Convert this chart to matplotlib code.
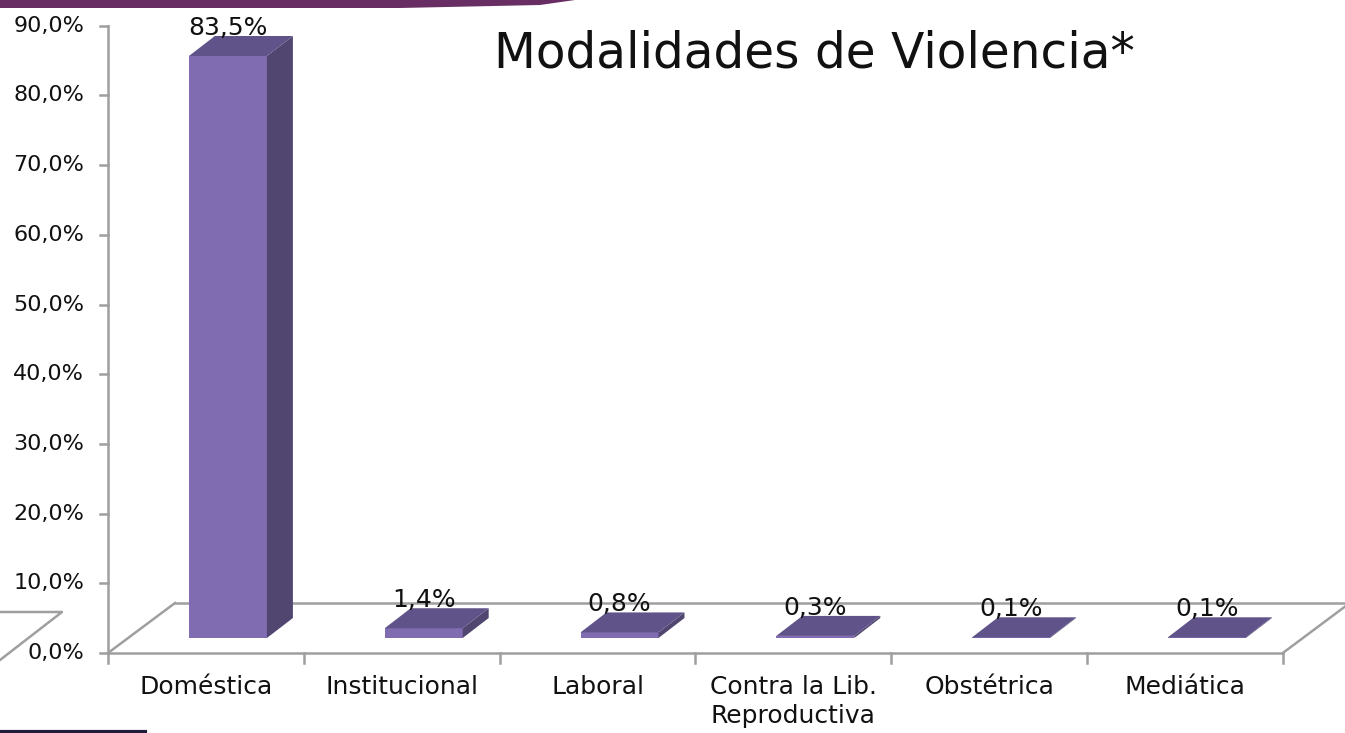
import numpy as np
import matplotlib
matplotlib.use("Agg")
import matplotlib.pyplot as plt
from matplotlib.patches import Polygon

# data
categories = ["Doméstica", "Institucional", "Laboral", "Contra la Lib.\nReproductiva", "Obstétrica", "Mediática"]
values = [83.5, 1.4, 0.8, 0.3, 0.1, 0.1]
labels = ["83,5%", "1,4%", "0,8%", "0,3%", "0,1%", "0,1%"]
yticks = [0, 10, 20, 30, 40, 50, 60, 70, 80, 90]

plt.rcParams['font.family'] = ['DejaVu Sans']

W, H = 1345, 733
fig = plt.figure(figsize=(W / 100, H / 100), dpi=100)
ax = fig.add_axes([0, 0, 1, 1])

# pixel scale: one category = 195.8 px, 1% = 6.97 px
cat_px = 195.8
pct_px = 6.97
x0_px, y0_px = 108, 653
ax.set_xlim(-0.5 - x0_px / cat_px, -0.5 + (W - x0_px) / cat_px)
ax.set_ylim(-(H - y0_px) / pct_px, y0_px / pct_px)
ax.axis("off")

# oblique depth of the floor and bars (in data units)
fdx, fdy = 67 / cat_px, 50 / pct_px
boff_x, boff_y = 22 / cat_px, 15 / pct_px
bw = 78 / cat_px
bdx, bdy = 26 / cat_px, 20 / pct_px

grid = "#9f9f9f"
txt = "#111111"
n = len(categories)
left, right = -0.5, n - 0.5

# floor
ax.plot([left, right], [0, 0], color=grid, lw=1.8)
ax.plot([left + fdx, right + fdx], [fdy, fdy], color=grid, lw=1.8)
ax.plot([left, left + fdx], [0, fdy], color=grid, lw=1.8)
ax.plot([right, right + fdx], [0, fdy], color=grid, lw=1.8)

# value axis
ax.plot([left, left], [0, 90], color=grid, lw=1.8)
for t in yticks:
    ax.plot([left - 8 / cat_px, left], [t, t], color=grid, lw=1.8)
    ax.text(left - 24 / cat_px, t, f"{t:.1f}%".replace(".", ","), ha="right", va="center",
            fontsize=16, color=txt)

# category ticks and labels
for i in range(n + 1):
    ax.plot([left + i, left + i], [0, -10 / pct_px], color=grid, lw=1.8)
for i, c in enumerate(categories):
    ax.text(i, -22 / pct_px, c, ha="center", va="top", fontsize=18, color=txt,
            linespacing=1.25)

front_c = "#806CB1"
top_c = "#5F5389"
side_c = "#51466F"

for i, v in enumerate(values):
    xl = i + boff_x - bw / 2
    xr = xl + bw
    yb = boff_y
    yt = boff_y + v
    ax.bar(xl, v, width=bw, bottom=yb, align="edge", color=front_c, lw=0, zorder=3)
    ax.add_patch(Polygon([(xl, yt), (xr, yt), (xr + bdx, yt + bdy), (xl + bdx, yt + bdy)],
                         closed=True, color=top_c, lw=0, zorder=4))
    ax.add_patch(Polygon([(xr, yb), (xr + bdx, yb + bdy), (xr + bdx, yt + bdy), (xr, yt)],
                         closed=True, color=side_c, lw=0, zorder=3))
    ax.text(i + boff_x, yt + bdy + 1.15, labels[i], ha="center", va="center",
            fontsize=18, color=txt, zorder=5)

ax.text(-0.5 + (814 - x0_px) / cat_px, (y0_px - 53) / pct_px, "Modalidades de Violencia*",
        ha="center", va="center", fontsize=35, color=txt)

# header band and leftover decorations
fig.patches.append(Polygon([(0, 1), (575 / W, 1), (540 / W, 1 - 5 / H), (400 / W, 1 - 8 / H), (0, 1 - 8 / H)],
                           closed=True, transform=fig.transFigure, color="#682E63", lw=0))
fig.lines.append(plt.Line2D([0, 145 / W], [1.5 / H, 1.5 / H], transform=fig.transFigure,
                            color="#221C3C", lw=3))
fig.lines.append(plt.Line2D([0, 62 / W, 0], [1 - 612 / H, 1 - 612 / H, 1 - 660 / H],
                            transform=fig.transFigure, color=grid, lw=1.8))

fig.savefig("out.png", dpi=100)
